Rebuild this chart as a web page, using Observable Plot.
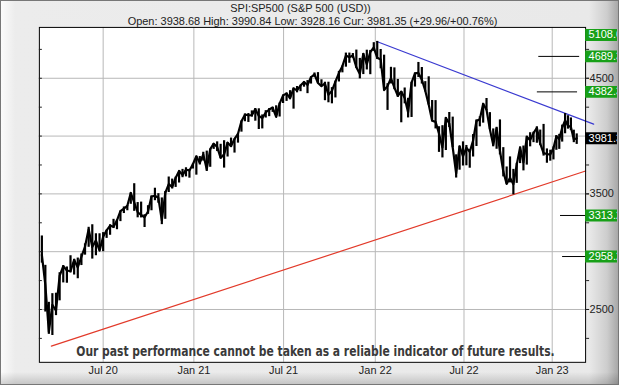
<!DOCTYPE html>
<html><head><meta charset="utf-8">
<script src="https://cdn.jsdelivr.net/npm/d3@7"></script>
<script src="https://cdn.jsdelivr.net/npm/@observablehq/plot@0.6"></script>
<style>
html,body{margin:0;padding:0;background:#fff}
#wrap{position:relative;width:619px;height:385px;box-sizing:border-box;border:1px solid #777;
background:linear-gradient(to right,#fbfbfb 0px,#ececec 14px,#e9e9e9 588px,#cdcdcd 606px,#a8a8a8 617px);
overflow:hidden;font-family:"Liberation Sans",Arial,sans-serif}
#wrap::after{content:"";position:absolute;left:0;right:0;bottom:0;height:12px;pointer-events:none;
background:linear-gradient(to bottom,rgba(0,0,0,0),rgba(0,0,0,0.16))}
#wrap svg{position:absolute;left:-1px;top:-1px}
</style></head><body><div id="wrap"></div>
<script>
const title = "SPI:SP500 (S&P 500 (USD))";
const subtitle = "Open: 3938.68 High: 3990.84 Low: 3928.16 Cur: 3981.35 (+29.96/+00.76%)";
const disclaimer = "Our past performance cannot be taken as a reliable indicator of future results.";

// weekly ranges, one entry per week starting Monday 2020-03-02
const firstWeek = "2020-03-02";
const weekHigh = [
3136,2882,2562,2637,2641,2818,2879,2868,2965,2934,2945,2980,3068,3211,3233,3155,3155,3165,3186,3233,3280,3272,3352,3387,3399,3509,3588,3425,3429,3320,3398,3482,3549,3502,3465,3521,3646,3628,3645,3699,3712,3726,3712,3760,
3826,3823,3860,3870,3887,3935,3950,3929,3960,3944,3983,3975,4020,4130,4191,4195,4218,4238,4236,4183,4220,4238,4249,4262,4286,4355,4372,4393,4415,4429,4440,4470,4480,4513,4546,4549,4487,4466,4466,4419,4475,4560,4608,4718,4718,4714,4744,4672,4713,4743,4741,4808,
4819,4749,4700,4453,4595,4590,4490,4385,4416,4327,4465,4546,4637,4593,4471,4513,4308,4307,4081,4090,4160,4204,4164,3838,3913,3950,3919,3880,4013,4140,4167,4280,4325,4203,4062,4076,4140,3900,3733,3820,3712,3765,3906,3914,3999,4029,4034,4080,4052,4101,3889,3878,
3906,4004,4015,4095,4195,4176,4157,4051,4019];
const weekLow = [
2901,2478,2285,2275,2447,2575,2730,2727,2816,2798,2766,2880,2970,3038,2936,2965,3007,3000,3115,3142,3200,3190,3260,3330,3354,3410,3349,3293,3292,3209,3323,3354,3441,3419,3234,3280,3512,3543,3556,3594,3640,3647,3636,3715,
3662,3750,3784,3694,3730,3885,3866,3805,3723,3819,3904,3853,3939,4034,4124,4118,4164,4129,4057,4062,4156,4168,4205,4165,4165,4282,4300,4327,4233,4374,4384,4423,4367,4450,4508,4456,4427,4306,4288,4279,4330,4468,4547,4596,4630,4672,4585,4495,4532,4572,4531,4733,
4662,4582,4395,4222,4451,4401,4335,4115,4279,4157,4161,4424,4507,4450,4381,4269,4125,4062,3859,3811,3875,4074,3900,3637,3705,3741,3743,3722,3819,3910,4080,4112,4218,4057,3907,3886,3837,3647,3584,3595,3492,3591,3762,3699,3749,3907,3943,3938,3918,3827,3765,3783,
3794,3877,3885,3948,4020,4060,4047,3943,3928];
const weekClose = [
2972,2711,2305,2541,2489,2790,2875,2837,2831,2930,2864,2955,3044,3194,3041,3098,3009,3130,3185,3225,3216,3271,3351,3373,3397,3508,3427,3341,3319,3298,3348,3477,3484,3465,3270,3509,3585,3558,3638,3699,3663,3709,3703,3756,
3825,3768,3841,3714,3887,3934,3907,3811,3842,3943,3913,3975,4020,4129,4185,4180,4181,4233,4174,4156,4204,4230,4247,4166,4281,4352,4369,4327,4412,4395,4437,4468,4442,4509,4535,4459,4432,4455,4357,4391,4471,4545,4605,4697,4682,4698,4595,4538,4712,4621,4726,4766,
4677,4663,4398,4432,4501,4419,4349,4385,4329,4204,4463,4543,4546,4488,4393,4272,4132,4123,4023,3901,4158,4109,3901,3675,3912,3825,3899,3863,3962,4130,4145,4280,4228,4058,3924,4067,3873,3693,3586,3640,3583,3753,3901,3771,3993,3965,4026,4072,3934,3852,3845,3840,
3895,3999,3973,4071,4136,4090,4079,3970,3981];

const xTickDates = ["2020-07-01","2021-01-01","2021-07-01","2022-01-01","2022-07-01","2023-01-01"];
const yGridTicks = [2500,3000,3500,4000,4500];
const yLabelTicks = [2500,3500,4500];
const yMinorTicks = [2250,2500,2750,3000,3250,3500,3750,4000,4250,4500,4750];

const targetLevels = [4689.3,4382.3,3313.2,2958.2];
const targetFrom = ["2022-12-04","2022-12-01","2023-01-21","2023-01-26"];
const targetTo = ["2023-03-08","2023-03-03","2023-03-22","2023-03-22"];

const boxValues = [5108.6,4689.3,4382.3,3981.35,3313.2,2958.2];
const boxTexts = ["5108.6","4689.3","4382.3","3981.35","3313.2","2958.2"];
const boxKinds = ["target","target","target","current","target","target"];

const resistanceDates = ["2022-01-04","2023-04-10"];
const resistanceValues = [4818,4103];
const supportDates = ["2020-03-23","2023-03-22"];
const supportValues = [2183,3698];

const P = d3.isoParse;
const weeks = weekHigh.map((h,i)=>({date: d3.utcDay.offset(P(firstWeek), 7*i+2), high:h, low:weekLow[i], close:weekClose[i]}));
const xTicks = xTickDates.map(P);
const targets = targetLevels.map((v,i)=>({v, x1:P(targetFrom[i]), x2:P(targetTo[i])}));
const resistance = resistanceDates.map((d,i)=>({date:P(d), v:resistanceValues[i]}));
const support = supportDates.map((d,i)=>({date:P(d), v:supportValues[i]}));

const xDomain = ["2020-02-28","2020-03-23","2020-07-01","2021-01-01","2021-07-01","2022-01-01","2022-07-01","2023-01-01","2023-03-02","2023-03-22"].map(P);
const xRange = [39,51,103,194,284,376,465,553.5,578.5,587];
const yDomain = [2043,4940];
const xEnd = xDomain[xDomain.length-1];
const boxes = boxValues.map((v,i)=>({v, yPos: Math.min(v, yDomain[1]-65), text: boxTexts[i], kind: boxKinds[i]}));

const chart = Plot.plot({
  width: 619, height: 385,
  marginTop: 27, marginBottom: 22, marginLeft: 39, marginRight: 32,
  style: {fontFamily: '"Liberation Sans", Arial, sans-serif', fontSize: "11px", color: "#222", background: "transparent"},
  x: {type: "utc", domain: xDomain, range: xRange},
  y: {domain: yDomain},
  marks: [
    Plot.frame({fill: "white"}),
    Plot.gridX({ticks: xTicks, stroke: "#b8b8b8", strokeOpacity: 1}),
    Plot.gridY({ticks: yGridTicks, stroke: "#b8b8b8", strokeOpacity: 1}),
    Plot.ruleY(targets, {y: "v", x1: "x1", x2: "x2", stroke: "black", strokeWidth: 1}),
    Plot.line(support, {x: "date", y: "v", stroke: "#e23a2a", strokeWidth: 1.2}),
    Plot.line(resistance, {x: "date", y: "v", stroke: "#3a3ad0", strokeWidth: 1.2}),
    Plot.ruleX(weeks, {x: "date", y1: "low", y2: "high", stroke: "black", strokeWidth: 2.2}),
    Plot.line(weeks, {x: "date", y: "close", stroke: "black", strokeWidth: 2.2}),
    Plot.frame({stroke: "black"}),
    Plot.axisX({ticks: xTicks, tickFormat: d3.utcFormat("%b %y"), tickSize: 0, tickPadding: 4, fontSize: 11}),
    Plot.axisY({anchor: "left", ticks: yMinorTicks, tickSize: -3, tickFormat: () => "", label: null}),
    Plot.axisY({anchor: "right", ticks: yMinorTicks, tickSize: 3, tickFormat: () => "", label: null}),
    Plot.axisY({anchor: "right", ticks: yLabelTicks, tickSize: 3, tickPadding: 1, tickFormat: d => String(d), fontSize: 11, label: null}),
    Plot.ruleY(boxes, {y: "yPos", x1: () => xEnd, x2: () => d3.utcDay.offset(xEnd, 200), stroke: d => d.kind === "current" ? "#000" : "#18a018", strokeWidth: 12}),
    Plot.text(boxes, {y: "yPos", text: "text", frameAnchor: "right", textAnchor: "start", dx: 3, fill: "white", fontSize: 11}),
    Plot.text([title], {frameAnchor: "top", lineAnchor: "middle", dy: -19, dx: -12, fontSize: 11, fill: "#222"}),
    Plot.text([subtitle], {frameAnchor: "top", lineAnchor: "middle", dy: -6, fontSize: 11, fill: "#222"}),
    Plot.text([disclaimer], {frameAnchor: "bottom", lineAnchor: "middle", dy: -11, dx: 3, fontSize: 15, fontWeight: "bold", fill: "#3a3a3a", fontFamily: '"Liberation Sans Narrow", "DejaVu Sans Condensed", Arial, sans-serif'})
  ]
});
document.getElementById("wrap").appendChild(chart);
chart.querySelectorAll("text").forEach(t => {
  if (t.textContent === disclaimer) { t.setAttribute("textLength", 480); t.setAttribute("lengthAdjust", "spacingAndGlyphs"); }
});
</script></body></html>
